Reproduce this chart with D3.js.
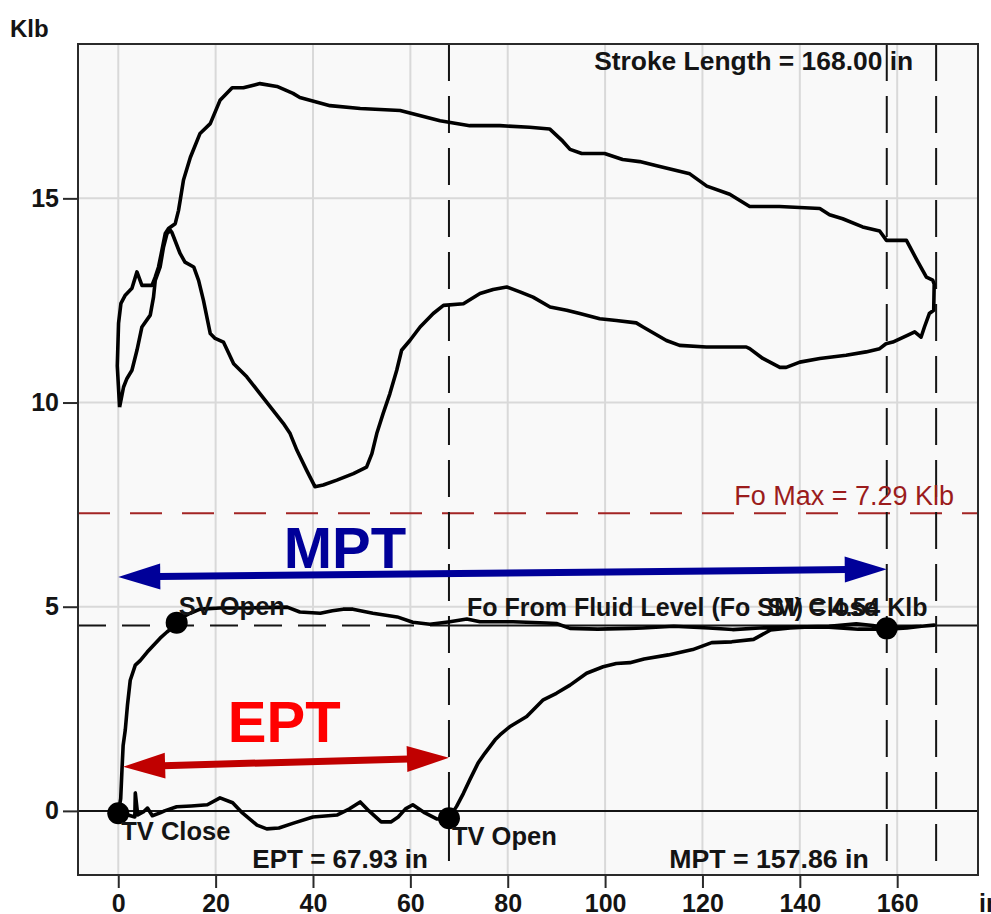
<!DOCTYPE html>
<html>
<head>
<meta charset="utf-8">
<script src="https://cdn.jsdelivr.net/npm/d3@7"></script>
<style>
  html, body { margin: 0; padding: 0; background: #ffffff; overflow: hidden; }
  svg { display: block; }
  text { font-family: "Liberation Sans", Arial, sans-serif; }
</style>
</head>
<body>
<svg id="chart" width="991" height="914"></svg>
<script>
// ---------------- DATA ----------------
const xMajorTicks = [0, 20, 40, 60, 80, 100, 120, 140, 160];
const yMajorTicks = [0, 5, 10, 15];
const xMinorTicks = d3.range(-5, 176, 5);
const yMinorTicks = d3.range(-1, 19, 1);
const xUnitLabel = "in";
const yUnitLabel = "Klb";

// Surface card (closed loop), position in inches / load in Klb
const surfaceX = [0.27,-0.2,0.06,0.55,1.44,2.81,3.84,4.86,6.92,7.59,8.27,8.97,9.65,10.32,11.7,12.37,12.72,13.4,14.8,16.8,18.9,20.9,23.4,25.7,29.1,32.6,35.9,37.3,43.5,49.7,57.9,66.1,72.2,78.4,84.5,88.6,91.3,92.8,95.2,99.9,103.6,107.1,110.6,117.4,120.9,125.6,129.7,135.8,144.1,146.1,148.8,152.9,156.4,157.8,161.9,164,166,167.3,167.6,
  167.5,166.6,165.6,164.9,163.6,162.2,159.1,157.7,156.4,153.6,149.5,144.1,140,137.2,135.9,132.4,129.7,129,120.8,115.3,112.6,107.8,106.4,102.3,98.9,94.8,92.1,88.7,85.2,82.5,79.8,77,74.3,70.9,66.8,64.7,62,59.9,58.2,57.2,55.8,54.4,53.1,52.1,51,48.3,44.9,42.1,40.4,38.7,36.7,35.3,33.9,29.1,26.4,23.7,21.6,19.9,18.9,17.5,16.5,15.5,13.7,12.7,11.0,10.7,10.0,9.3,8.6,7.6,7.24,6.57,4.86,3.84,2.81,1.79,1.09,0.27];
const surfaceY = [9.89,10.9,11.94,12.43,12.63,12.8,13.2,12.87,12.87,13.07,13.32,13.73,14.14,14.26,14.38,14.7,14.95,15.45,16.0,16.59,16.83,17.4,17.71,17.71,17.81,17.74,17.57,17.47,17.27,17.2,17.15,16.9,16.78,16.78,16.74,16.7,16.4,16.2,16.1,16.1,15.95,15.9,15.8,15.6,15.3,15.1,14.8,14.8,14.75,14.6,14.5,14.3,14.2,13.97,13.97,13.5,13.07,13.0,12.9,
  12.26,12.18,11.85,11.6,11.73,11.65,11.48,11.44,11.32,11.24,11.16,11.08,10.99,10.86,10.86,11.08,11.32,11.36,11.36,11.4,11.52,11.85,11.95,12.01,12.05,12.18,12.26,12.34,12.58,12.71,12.83,12.77,12.67,12.42,12.38,12.18,11.85,11.52,11.28,10.79,10.22,9.73,9.24,8.75,8.42,8.26,8.1,7.98,7.94,8.34,8.83,9.24,9.49,10.22,10.63,10.95,11.48,11.57,11.69,12.5,12.99,13.32,13.44,13.65,14.17,14.22,14.13,13.81,13.32,12.99,12.58,12.14,11.85,11.28,10.79,10.59,10.38,9.89];

// Downhole pump card (closed loop)
const pumpX = [0,0.5,0.76,1.0,1.44,1.9,2.46,3.5,4.5,5.95,7.2,8.6,10,11.3,12.0,13.3,14.8,16.8,20.9,27,34.7,37.3,41.5,44,46.2,48.2,52.3,57.3,60.5,64,66.1,68.1,71.6,74.3,81.1,88,90,92.8,98.5,105.1,107.7,114.1,121.3,126.2,131.7,139,146,151.6,155,157.86,162,165,167.6,
  165,162,158,152,146,141,138,134,130.5,126,121.9,118,113,108,105.1,102.3,99.6,96.2,92.8,90,87.3,83.9,80.4,78.4,77.4,75.3,73.9,72.2,70.9,69.5,67.93,
  65.5,63,60.5,59,57.5,56,54,51.5,49.7,47.5,45,40,36,33,30.5,28.5,25.5,23.5,20.9,18.3,15,12,9.5,8.6,7,6,5.2,4,3.5,3.4,2,0];
const pumpY = [-0.06,0.3,1.0,1.6,1.98,2.6,3.2,3.57,3.68,3.89,4.05,4.23,4.38,4.5,4.61,4.75,4.84,4.94,4.97,4.97,4.99,4.87,4.84,4.9,4.94,4.94,4.84,4.75,4.62,4.57,4.6,4.63,4.7,4.63,4.63,4.6,4.59,4.47,4.45,4.47,4.48,4.52,4.48,4.44,4.48,4.5,4.52,4.58,4.54,4.47,4.5,4.52,4.55,
  4.52,4.48,4.45,4.45,4.5,4.5,4.48,4.43,4.2,4.14,4.12,3.95,3.82,3.72,3.63,3.61,3.53,3.37,3.08,2.88,2.72,2.31,2.06,1.86,1.74,1.41,1.17,0.76,0.43,0.11,-0.18,
  -0.2,-0.05,0.15,0.05,-0.15,-0.27,-0.27,0.0,0.22,0.05,-0.1,-0.15,-0.3,-0.42,-0.44,-0.35,-0.05,0.2,0.32,0.15,0.12,0.1,0.0,-0.05,-0.12,0.07,-0.02,-0.1,0.44,-0.15,-0.1,-0.06];

// Valve event markers
const markerNames = ["TV Close", "SV Open", "TV Open", "SV Close"];
const markerX = [0, 12.0, 67.93, 157.86];
const markerY = [-0.06, 4.61, -0.18, 4.47];

// Reference values
const eptValue = 67.93;
const mptValue = 157.86;
const strokeLength = 168.00;
const foMax = 7.29;
const foFluid = 4.54;

// Arrow annotations (start/end in data units)
const arrowNames = ["MPT", "EPT"];
const arrowX0 = [0, 1.0];
const arrowY0 = [5.73, 1.08];
const arrowX1 = [157.86, 67.93];
const arrowY1 = [5.92, 1.30];
const arrowColors = ["#000099", "#c00000"];
const arrowLabelColors = ["#000099", "#ff0000"];
const arrowLabelX = [34.0, 22.5];
const arrowLabelY = [5.94, 1.68];

// ---------------- CHART ----------------
const svg = d3.select("#chart");
const L = 78, R = 978, T = 44, B = 875;
const x = d3.scaleLinear().domain([-8.27, 176.6]).range([L, R]);
const y = d3.scaleLinear().domain([-1.57, 18.78]).range([B, T]);
const FONT = 25;
const ink = "#141414";

// plot background
svg.append("rect").attr("x", L).attr("y", T).attr("width", R - L).attr("height", B - T)
  .attr("fill", "#f9f9f9");

// gridlines
svg.append("g").selectAll("line").data(xMajorTicks).join("line")
  .attr("x1", d => x(d)).attr("x2", d => x(d)).attr("y1", T).attr("y2", B)
  .attr("stroke", "#d9d9d9").attr("stroke-width", 2);
svg.append("g").selectAll("line").data(yMajorTicks.filter(d => d !== 0)).join("line")
  .attr("x1", L).attr("x2", R).attr("y1", d => y(d)).attr("y2", d => y(d))
  .attr("stroke", "#d9d9d9").attr("stroke-width", 2);

// zero line
svg.append("line").attr("x1", L).attr("x2", R).attr("y1", y(0)).attr("y2", y(0))
  .attr("stroke", ink).attr("stroke-width", 2);

// Fo max (red dashed)
svg.append("line").attr("x1", L).attr("x2", R).attr("y1", y(foMax)).attr("y2", y(foMax))
  .attr("stroke", "#a32424").attr("stroke-width", 2).attr("stroke-dasharray", "32,20");

// Fo from fluid level
svg.append("line").attr("x1", L).attr("x2", x(eptValue)).attr("y1", y(foFluid)).attr("y2", y(foFluid))
  .attr("stroke", ink).attr("stroke-width", 2).attr("stroke-dasharray", "28,16");
svg.append("line").attr("x1", x(eptValue)).attr("x2", x(165)).attr("y1", y(foFluid)).attr("y2", y(foFluid))
  .attr("stroke", ink).attr("stroke-width", 2);
svg.append("line").attr("x1", x(strokeLength)).attr("x2", R).attr("y1", y(foFluid)).attr("y2", y(foFluid))
  .attr("stroke", ink).attr("stroke-width", 2);

// vertical dashed lines
svg.append("g").selectAll("line").data([eptValue, mptValue, strokeLength]).join("line")
  .attr("x1", d => x(d)).attr("x2", d => x(d)).attr("y1", T).attr("y2", B)
  .attr("stroke", ink).attr("stroke-width", 2).attr("stroke-dasharray", "37,15");

// curves
const line = d3.line().x(d => x(d[0])).y(d => y(d[1]));
const surface = surfaceX.map((v, i) => [v, surfaceY[i]]);
const pump = pumpX.map((v, i) => [v, pumpY[i]]);
svg.append("path").attr("d", line(surface)).attr("fill", "none")
  .attr("stroke", "#000").attr("stroke-width", 3.6).attr("stroke-linejoin", "round");
svg.append("path").attr("d", line(pump)).attr("fill", "none")
  .attr("stroke", "#000").attr("stroke-width", 3.6).attr("stroke-linejoin", "round");

// markers
svg.append("g").selectAll("circle").data(markerNames).join("circle")
  .attr("cx", (d, i) => x(markerX[i])).attr("cy", (d, i) => y(markerY[i])).attr("r", 11)
  .attr("fill", "#000");

// border
svg.append("rect").attr("x", L).attr("y", T).attr("width", R - L).attr("height", B - T)
  .attr("fill", "none").attr("stroke", "#2a2a2a").attr("stroke-width", 2);

// axes
const axL = svg.append("g").attr("transform", `translate(${L},0)`);
axL.call(d3.axisLeft(y).tickValues(yMinorTicks).tickSize(8).tickFormat(""));
axL.call(d3.axisLeft(y).tickValues(yMajorTicks).tickSize(15).tickPadding(4).tickFormat(d3.format("d")));
const axB = svg.append("g").attr("transform", `translate(0,${B})`);
axB.call(d3.axisBottom(x).tickValues(xMinorTicks).tickSize(7).tickFormat(""));
axB.call(d3.axisBottom(x).tickValues(xMajorTicks).tickSize(13).tickPadding(6).tickFormat(d3.format("d")));
svg.selectAll(".domain").remove();
svg.selectAll(".tick line").attr("stroke", "#2a2a2a").attr("stroke-width", 2);
svg.selectAll(".tick text").attr("font-size", FONT).attr("font-weight", "bold")
  .attr("fill", ink).attr("font-family", "Liberation Sans, Arial, sans-serif");

svg.append("text").attr("x", 10).attr("y", 37).text(yUnitLabel)
  .attr("font-size", FONT - 1).attr("font-weight", "bold").attr("fill", ink);
svg.append("text").attr("x", R + 1).attr("y", 912).text(xUnitLabel)
  .attr("font-size", FONT).attr("font-weight", "bold").attr("fill", ink);

// annotation texts
function label(txt, px, py, anchor, size, color, weight) {
  svg.append("text").attr("x", px).attr("y", py).attr("text-anchor", anchor || "start")
    .attr("font-size", size).attr("font-weight", weight || "bold").attr("fill", color || ink).text(txt);
}
label("Stroke Length = " + strokeLength.toFixed(2) + " in", x(strokeLength) - 23, 70, "end", 26.4);
label("Fo Max = " + foMax.toFixed(2) + " Klb", x(strokeLength) + 18, y(foMax) - 8, "end", 27, "#9b1c1c", "normal");
label("Fo From Fluid Level (Fo SM) = " + foFluid.toFixed(2) + " Klb", x(eptValue) + 18, y(foFluid) - 9, "start", 25);
label("EPT = " + eptValue.toFixed(2) + " in", x(eptValue) - 21, 868, "end", 26);
label("MPT = " + mptValue.toFixed(2) + " in", x(mptValue) - 18, 868, "end", 26.7);
// valve labels
label(markerNames[0], x(markerX[0]) + 3, y(markerY[0]) + 27, "start", 25.5);
label(markerNames[1], x(markerX[1]) + 2, y(markerY[1]) - 8, "start", 25.5);
label(markerNames[2], x(markerX[2]) + 3, y(markerY[2]) + 27, "start", 25.5);
label(markerNames[3], x(markerX[3]) - 9, y(markerY[3]) - 12, "end", 25.5);

// arrows
arrowNames.forEach((name, i) => {
  const x0 = x(arrowX0[i]), y0 = y(arrowY0[i]), x1 = x(arrowX1[i]), y1 = y(arrowY1[i]);
  const ang = Math.atan2(y1 - y0, x1 - x0);
  const hl = 42, hw = 13;
  const ux = Math.cos(ang), uy = Math.sin(ang);
  const g = svg.append("g");
  g.append("line").attr("x1", x0 + ux * (hl - 2)).attr("y1", y0 + uy * (hl - 2))
    .attr("x2", x1 - ux * (hl - 2)).attr("y2", y1 - uy * (hl - 2))
    .attr("stroke", arrowColors[i]).attr("stroke-width", 7);
  const head = (tx, ty, dx, dy) => {
    const bx = tx - dx * hl, by = ty - dy * hl;
    return [[tx, ty], [bx - dy * hw, by + dx * hw], [bx + dy * hw, by - dx * hw]];
  };
  g.append("polygon").attr("points", head(x1, y1, ux, uy).join(" ")).attr("fill", arrowColors[i]);
  g.append("polygon").attr("points", head(x0, y0, -ux, -uy).join(" ")).attr("fill", arrowColors[i]);
  svg.append("text").attr("x", x(arrowLabelX[i])).attr("y", y(arrowLabelY[i]))
    .attr("font-size", 58).attr("font-weight", "bold").attr("fill", arrowLabelColors[i]).text(name);
});
</script>
</body>
</html>
